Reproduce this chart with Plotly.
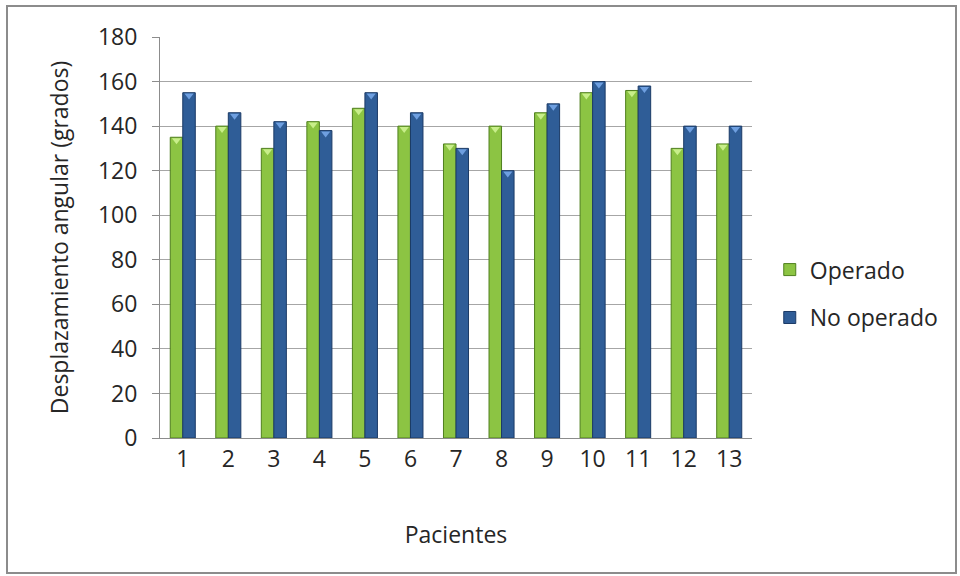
import plotly.graph_objects as go

pacientes = [1, 2, 3, 4, 5, 6, 7, 8, 9, 10, 11, 12, 13]
operado = [135, 140, 130, 142, 148, 140, 132, 140, 146, 155, 156, 130, 132]
no_operado = [155, 146, 142, 138, 155, 146, 130, 120, 150, 160, 158, 140, 140]
y_ticks = [0, 20, 40, 60, 80, 100, 120, 140, 160, 180]

FONT = "Open Sans"
TEXT = "#262626"
FS = 23
BAR_W = 0.275

# plot-area geometry in pixels (used to place the outer frame)
W, H = 960, 576
L, R, T, B = 160, 208, 37, 138
pw, ph = W - L - R, H - T - B


def px_to_paper(x, y):
    return (x - L) / pw, (H - B - y) / ph


fig = go.Figure()

fig.add_trace(go.Bar(
    x=pacientes, y=operado, name="Operado",
    width=BAR_W, offset=-BAR_W,
    marker=dict(color="#8cc443", line=dict(color="#4f7f1e", width=1)),
    legendgroup="op",
))
fig.add_trace(go.Bar(
    x=pacientes, y=no_operado, name="No operado",
    width=BAR_W, offset=0,
    marker=dict(color="#2f5d97", line=dict(color="#1b3a66", width=1)),
    legendgroup="no",
))

# bevel highlights on the bar tops
fig.add_trace(go.Scatter(
    x=[p - BAR_W / 2 for p in pacientes], y=[v - 1.3 for v in operado],
    mode="markers", showlegend=False, hoverinfo="skip",
    marker=dict(symbol="triangle-down", size=8, color="#c8ee8a"),
))
fig.add_trace(go.Scatter(
    x=[p + BAR_W / 2 for p in pacientes], y=[v - 1.3 for v in no_operado],
    mode="markers", showlegend=False, hoverinfo="skip",
    marker=dict(symbol="triangle-down", size=8, color="#6e9fe0"),
))

x0, y0 = px_to_paper(7, 6)
x1, y1 = px_to_paper(956, 573)
fig.add_shape(type="rect", xref="paper", yref="paper",
              x0=x0, y0=y1, x1=x1, y1=y0,
              line=dict(color="#8c8c8c", width=2), layer="below")

fig.update_layout(
    width=W, height=H,
    margin=dict(l=L, r=R, t=T, b=B),
    paper_bgcolor="white", plot_bgcolor="white",
    font=dict(family=FONT, size=FS, color=TEXT),
    barmode="overlay",
    legend=dict(
        x=1.03, y=0.36, xanchor="left", yanchor="middle",
        font=dict(family=FONT, size=FS, color=TEXT),
        tracegroupgap=15, traceorder="grouped",
        bgcolor="rgba(0,0,0,0)",
    ),
    xaxis=dict(
        range=[0.5, 13.5], tickmode="array", tickvals=pacientes,
        ticktext=[str(p) for p in pacientes],
        showgrid=False, zeroline=False,
        showline=True, linecolor="#8c8c8c", linewidth=1,
        ticks="", ticklabelstandoff=0,
        title=dict(text="Pacientes", standoff=54,
                   font=dict(family=FONT, size=FS, color=TEXT)),
    ),
    yaxis=dict(
        range=[0, 180], tickmode="array", tickvals=y_ticks,
        showgrid=True, gridcolor="#a6a6a6", gridwidth=1,
        zeroline=False,
        showline=True, linecolor="#8c8c8c", linewidth=1,
        ticks="outside", ticklen=7, tickcolor="#8c8c8c",
        ticklabelstandoff=10,
        title=dict(text="Desplazamiento angular (grados)", standoff=22,
                   font=dict(family=FONT, size=FS, color=TEXT)),
    ),
)

fig.write_html("out.html")
